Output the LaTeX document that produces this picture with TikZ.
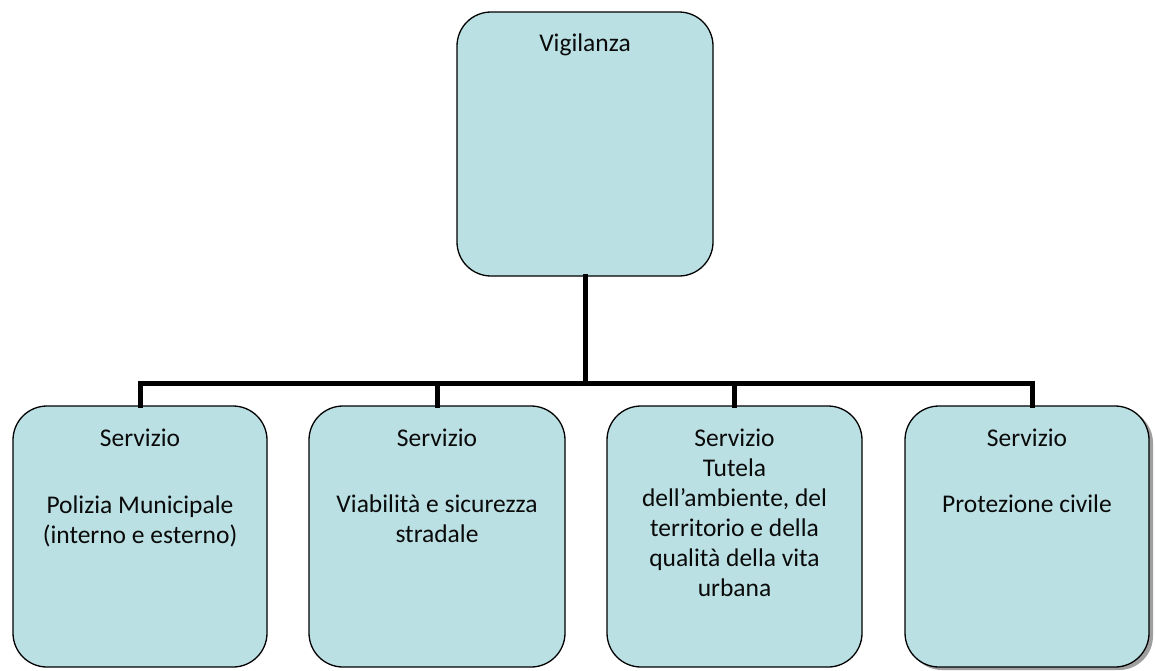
\documentclass[tikz,border=0pt]{standalone}
\usepackage{fontspec}
\setmainfont{Carlito}
\definecolor{boxfill}{RGB}{186,224,227}
\definecolor{txtcol}{RGB}{10,10,10}
\begin{document}
\begin{tikzpicture}[x=1pt,y=-1pt,
  orgbox/.style={draw=black,line width=1.3pt,fill=boxfill,rounded corners=34pt,inner sep=0pt},
  boxtext/.style={anchor=north,align=center,inner sep=0pt,text=txtcol,font=\fontsize{25.5pt}{30pt}\selectfont},
  conn/.style={line width=5pt,draw=black,line cap=rect,line join=miter}]
\useasboundingbox[fill=white] (0,0) rectangle (1155,670);
% boxes
\node[orgbox,minimum width=256pt,minimum height=264pt] (top) at (585,144) {};
\node[orgbox,minimum width=254pt,minimum height=261pt] (b1) at (140,536.5) {};
\node[orgbox,minimum width=256pt,minimum height=261pt] (b2) at (437,536.5) {};
\node[orgbox,minimum width=255pt,minimum height=261pt] (b3) at (734.5,536.5) {};
\fill[gray!75,rounded corners=34pt] (908,409) rectangle (1153,670);
\node[orgbox,minimum width=244pt,minimum height=261pt] (b4) at (1027,536.5) {};
% texts
\node[boxtext] (ttop) at (585,34) {Vigilanza};
\node[boxtext] (t1) at (140,429) {Servizio\\[37pt] Polizia Municipale\\(interno e esterno)};
\node[boxtext] (t2) at (437,429) {Servizio\\[36pt]Viabilità e sicurezza\\stradale};
\node[boxtext] (t3) at (734.5,429) {Servizio\\Tutela\\dell’ambiente, del\\territorio e della\\qualità della vita\\urbana};
\node[boxtext] (t4) at (1027,429) {Servizio\\[36pt]Protezione civile};
% connectors
\coordinate (bar) at (585,383);
\coordinate (s4) at (1032,405);
\draw[conn] (top.south) -- (bar);
\draw[conn] (b1.north) |- (bar) -| (s4);
\draw[conn] (b2.north) -- (b2.north |- bar);
\draw[conn] (b3.north) -- (b3.north |- bar);
\end{tikzpicture}
\end{document}
